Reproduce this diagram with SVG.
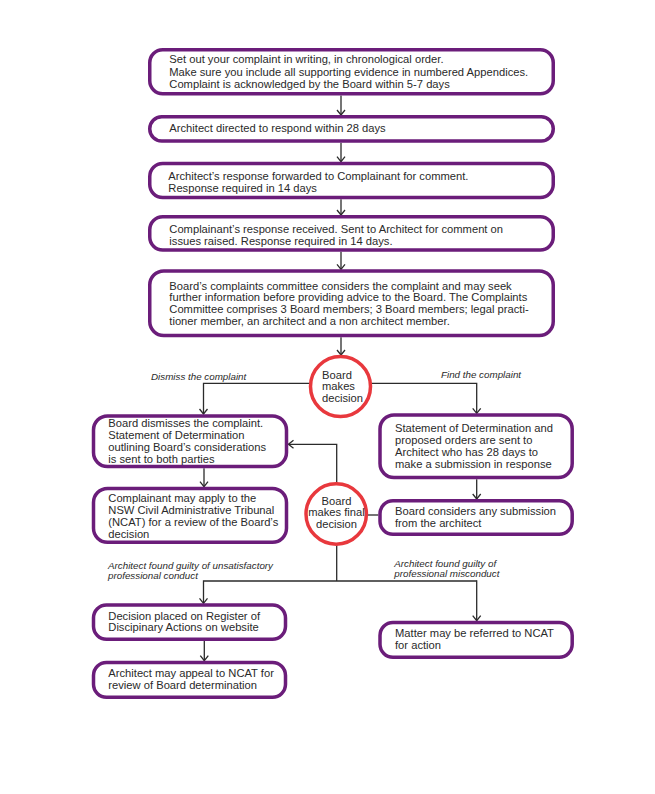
<svg xmlns="http://www.w3.org/2000/svg" width="655" height="794" viewBox="0 0 655 794">
<defs>
<style>
.box{fill:#fff;stroke:#6b1d7a;stroke-width:3.5}
.dec{fill:#fff;stroke:#e8383d;stroke-width:3.5}
.t{font-family:"Liberation Sans",Arial,sans-serif;font-size:11.2px;fill:#2a2a2a}
.lbl{font-family:"Liberation Sans",Arial,sans-serif;font-size:9.8px;font-style:italic;fill:#2a2a2a}
.c{fill:none;stroke:#2b2b2b;stroke-width:1.3}
</style>
<marker id="ah" viewBox="0 0 10 10" refX="9" refY="5" markerWidth="10" markerHeight="10" markerUnits="userSpaceOnUse" orient="auto">
<path d="M4,1 L9,5 L4,9" fill="none" stroke="#2b2b2b" stroke-width="1.3"/>
</marker>
</defs>
<rect width="655" height="794" fill="#fff"/>

<g id="connectors">
<line class="c" x1="341" y1="95.5" x2="341" y2="115" marker-end="url(#ah)"/>
<line class="c" x1="341" y1="142.7" x2="341" y2="161.7" marker-end="url(#ah)"/>
<line class="c" x1="341" y1="199.3" x2="341" y2="215" marker-end="url(#ah)"/>
<line class="c" x1="341" y1="251.7" x2="341" y2="269.3" marker-end="url(#ah)"/>
<line class="c" x1="341" y1="337.3" x2="341" y2="355" marker-end="url(#ah)"/>
<polyline class="c" points="310,383.3 203.5,383.3 203.5,414" marker-end="url(#ah)"/>
<polyline class="c" points="371,383.3 476.7,383.3 476.7,413.3" marker-end="url(#ah)"/>
<line class="c" x1="204" y1="468.3" x2="204" y2="486.7" marker-end="url(#ah)"/>
<line class="c" x1="476.7" y1="479.3" x2="476.7" y2="499" marker-end="url(#ah)"/>
<polyline class="c" points="336.7,483 336.7,444.3 288.5,444.3" marker-end="url(#ah)"/>
<line class="c" x1="367" y1="515" x2="378.3" y2="515"/>
<line class="c" x1="336.7" y1="545" x2="336.7" y2="581"/>
<polyline class="c" points="476.7,581 203.5,581 203.5,603.3" marker-end="url(#ah)"/>
<line class="c" x1="476.7" y1="580.35" x2="476.7" y2="620.7" marker-end="url(#ah)"/>
<line class="c" x1="204.3" y1="641" x2="204.3" y2="660.7" marker-end="url(#ah)"/>
<text class="lbl" x="151" y="379.5">Dismiss the complaint</text>
<text class="lbl" x="441" y="378">Find the complaint</text>
<text class="lbl" x="108" y="568.5">Architect found guilty of unsatisfactory</text>
<text class="lbl" x="108" y="578.7">professional conduct</text>
<text class="lbl" x="394.3" y="566.5">Architect found guilty of</text>
<text class="lbl" x="394.3" y="577">professional misconduct</text>
</g>

<g id="n1">
<rect class="box" x="149.75" y="49.75" width="403.5" height="44" rx="13"/>
<text class="t" x="169.3" y="63">Set out your complaint in writing, in chronological order.</text>
<text class="t" x="169.3" y="75.5">Make sure you include all supporting evidence in numbered Appendices.</text>
<text class="t" x="169.3" y="88">Complaint is acknowledged by the Board within 5-7 days</text>
</g>
<g id="n2">
<rect class="box" x="149.75" y="116.75" width="403.5" height="24.2" rx="12"/>
<text class="t" x="169.3" y="132">Architect directed to respond within 28 days</text>
</g>
<g id="n3">
<rect class="box" x="149.75" y="163.5" width="403.5" height="34" rx="13"/>
<text class="t" x="168.3" y="179.5">Architect’s response forwarded to Complainant for comment.</text>
<text class="t" x="168.3" y="191.5">Response required in 14 days</text>
</g>
<g id="n4">
<rect class="box" x="149.75" y="216.75" width="403.5" height="33.2" rx="13"/>
<text class="t" x="169.3" y="233">Complainant’s response received. Sent to Architect for comment on</text>
<text class="t" x="169.3" y="245">issues raised. Response required in 14 days.</text>
</g>
<g id="n5">
<rect class="box" x="149.75" y="271" width="403.5" height="64.5" rx="14"/>
<text class="t" x="169.3" y="289.5">Board’s complaints committee considers the complaint and may seek</text>
<text class="t" x="169.3" y="301.3">further information before providing advice to the Board. The Complaints</text>
<text class="t" x="169.3" y="313">Committee comprises 3 Board members; 3 Board members; legal practi-</text>
<text class="t" x="169.3" y="324.7">tioner member, an architect and a non architect member.</text>
</g>
<g id="d1">
<circle class="dec" cx="340.5" cy="386.5" r="30"/>
<text class="t" x="322" y="378.5">Board</text>
<text class="t" x="322" y="390">makes</text>
<text class="t" x="322" y="401.5">decision</text>
</g>
<g id="n6">
<rect class="box" x="93.5" y="416" width="193" height="50.5" rx="14"/>
<text class="t" x="108.3" y="427">Board dismisses the complaint.</text>
<text class="t" x="108.3" y="439">Statement of Determination</text>
<text class="t" x="108.3" y="451">outlining Board’s considerations</text>
<text class="t" x="108.3" y="463">is sent to both parties</text>
</g>
<g id="n7">
<rect class="box" x="93.5" y="488.5" width="193" height="53.8" rx="14"/>
<text class="t" x="108.3" y="502">Complainant may apply to the</text>
<text class="t" x="108.3" y="514">NSW Civil Administrative Tribunal</text>
<text class="t" x="108.3" y="526">(NCAT) for a review of the Board’s</text>
<text class="t" x="108.3" y="538">decision</text>
</g>
<g id="n8">
<rect class="box" x="380" y="415" width="192.2" height="62.5" rx="14"/>
<text class="t" x="395" y="432">Statement of Determination and</text>
<text class="t" x="395" y="444">proposed orders are sent to</text>
<text class="t" x="395" y="455.7">Architect who has 28 days to</text>
<text class="t" x="395" y="467.5">make a submission in response</text>
</g>
<g id="n9">
<rect class="box" x="380" y="500.75" width="192.2" height="33.5" rx="13"/>
<text class="t" x="395" y="515.2">Board considers any submission</text>
<text class="t" x="395" y="527">from the architect</text>
</g>
<g id="d2">
<circle class="dec" cx="336.2" cy="514" r="30.2"/>
<text class="t" x="336.5" y="504.5" text-anchor="middle">Board</text>
<text class="t" x="336.5" y="516.2" text-anchor="middle">makes final</text>
<text class="t" x="336.5" y="528" text-anchor="middle">decision</text>
</g>
<g id="n10">
<rect class="box" x="93.5" y="605" width="192" height="34.3" rx="13"/>
<text class="t" x="108.3" y="619.5">Decision placed on Register of</text>
<text class="t" x="108.3" y="631.2">Discipinary Actions on website</text>
</g>
<g id="n11">
<rect class="box" x="93.5" y="662.5" width="192" height="34.8" rx="13"/>
<text class="t" x="108.3" y="677">Architect may appeal to NCAT for</text>
<text class="t" x="108.3" y="688.5">review of Board determination</text>
</g>
<g id="n12">
<rect class="box" x="380" y="622.5" width="192.2" height="34.8" rx="13"/>
<text class="t" x="395" y="637.2">Matter may be referred to NCAT</text>
<text class="t" x="395" y="649">for action</text>
</g>
</svg>
